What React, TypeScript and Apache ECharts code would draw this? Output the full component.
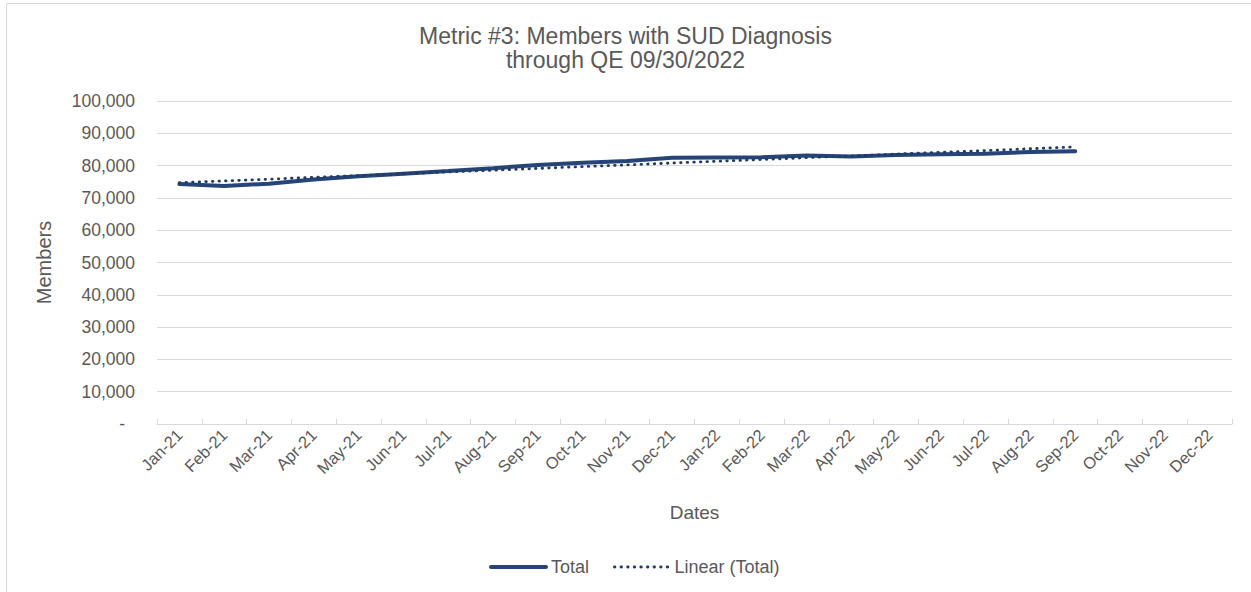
import React, { useEffect, useRef } from "react";
import * as echarts from "echarts";

const categories = [
  "Jan-21", "Feb-21", "Mar-21", "Apr-21", "May-21", "Jun-21", "Jul-21", "Aug-21",
  "Sep-21", "Oct-21", "Nov-21", "Dec-21", "Jan-22", "Feb-22", "Mar-22", "Apr-22",
  "May-22", "Jun-22", "Jul-22", "Aug-22", "Sep-22", "Oct-22", "Nov-22", "Dec-22",
];

const totalValues: (number | null)[] = [
  74300, 73700, 74400, 75700, 76700, 77500, 78300, 79200,
  80200, 80900, 81400, 82400, 82500, 82600, 83100, 82800,
  83300, 83500, 83700, 84200, 84450, null, null, null,
];

const yTicks = [0, 10000, 20000, 30000, 40000, 50000, 60000, 70000, 80000, 90000, 100000];

const titleLines = ["Metric #3: Members with SUD Diagnosis", "through QE 09/30/2022"];

const seriesNames = ["Total", "Linear (Total)"];

function linearTrend(vals: (number | null)[]): (number | null)[] {
  const pts = vals.map((v, i) => [i, v] as [number, number | null]).filter((p) => p[1] != null) as [number, number][];
  const n = pts.length;
  const sx = pts.reduce((a, p) => a + p[0], 0);
  const sy = pts.reduce((a, p) => a + p[1], 0);
  const sxx = pts.reduce((a, p) => a + p[0] * p[0], 0);
  const sxy = pts.reduce((a, p) => a + p[0] * p[1], 0);
  const b = (n * sxy - sx * sy) / (n * sxx - sx * sx);
  const a = (sy - b * sx) / n;
  const last = pts[n - 1][0];
  return vals.map((_, i) => (i <= last ? a + b * i : null));
}

export default function App() {
  const ref = useRef<HTMLDivElement>(null);
  useEffect(() => {
    document.body.style.margin = "0";
    const chart = echarts.init(ref.current!, null, { renderer: "svg" });
    const font = "Liberation Sans, Arial, sans-serif";
    const textColor = "#595959";
    const solidColor = "#264478";
    const dotColor = "#1f3b66";
    chart.setOption({
      animation: false,
      textStyle: { fontFamily: font },
      title: {
        text: titleLines.join("\n"),
        left: "center",
        top: 19,
        textStyle: { fontSize: 23, fontWeight: "normal", color: textColor, lineHeight: 24, fontFamily: font },
      },
      graphic: [
        {
          type: "rect",
          shape: { x: 6.5, y: 3.5, width: 1400, height: 800 },
          style: { fill: "none", stroke: "#d9d9d9", lineWidth: 1 },
          silent: true,
        },
      ],
      grid: { left: 157, right: 19, top: 101, bottom: 168 },
      legend: {
        top: 553,
        left: 484,
        itemWidth: 55,
        itemHeight: 20,
        itemGap: 24,
        itemStyle: { color: "rgba(0,0,0,0)", borderWidth: 0 },
        textStyle: { fontSize: 18, color: textColor, fontFamily: font },
        data: [
          { name: seriesNames[0], lineStyle: { width: 4, color: solidColor, cap: "round" } },
          { name: seriesNames[1], lineStyle: { width: 2.8, color: dotColor, type: [0.5, 6.1], cap: "round" } },
        ],
      },
      xAxis: {
        type: "category",
        data: categories,
        boundaryGap: true,
        name: "Dates",
        nameLocation: "middle",
        nameGap: 79,
        nameTextStyle: { fontSize: 19, color: textColor, fontFamily: font },
        axisLine: { lineStyle: { color: "#d9d9d9", width: 1 } },
        axisTick: { show: true, inside: true, length: 5, lineStyle: { color: "#d9d9d9" } },
        axisLabel: { rotate: 45, fontSize: 16.5, color: textColor, margin: 8, interval: 0, fontFamily: font },
        splitLine: { show: false },
      },
      yAxis: {
        type: "value",
        min: yTicks[0],
        max: yTicks[yTicks.length - 1],
        interval: yTicks[1] - yTicks[0],
        name: "Members",
        nameLocation: "middle",
        nameGap: 103,
        nameRotate: 90,
        nameTextStyle: { fontSize: 20, color: textColor, fontFamily: font },
        axisLine: { show: false },
        axisTick: { show: false },
        splitLine: { lineStyle: { color: "#d9d9d9", width: 1 } },
        axisLabel: {
          fontSize: 17.5,
          color: textColor,
          margin: 22,
          fontFamily: font,
          formatter: (v: number) => (v === 0 ? "{d|-}" : v.toLocaleString("en-US")),
          rich: { d: { fontSize: 17.5, color: textColor, padding: [0, 10, 0, 0] } },
        },
      },
      series: [
        {
          name: seriesNames[0],
          type: "line",
          data: totalValues,
          showSymbol: false,
          symbol: "none",
          lineStyle: { color: solidColor, width: 4, cap: "round" },
          itemStyle: { color: solidColor },
          z: 2,
        },
        {
          name: seriesNames[1],
          type: "line",
          data: linearTrend(totalValues),
          showSymbol: false,
          symbol: "none",
          lineStyle: { color: dotColor, width: 2.8, type: [0.5, 6.1], cap: "round" },
          itemStyle: { color: dotColor },
          z: 3,
        },
      ],
    });
    return () => chart.dispose();
  }, []);
  return <div ref={ref} style={{ width: 1251, height: 592 }} />;
}
